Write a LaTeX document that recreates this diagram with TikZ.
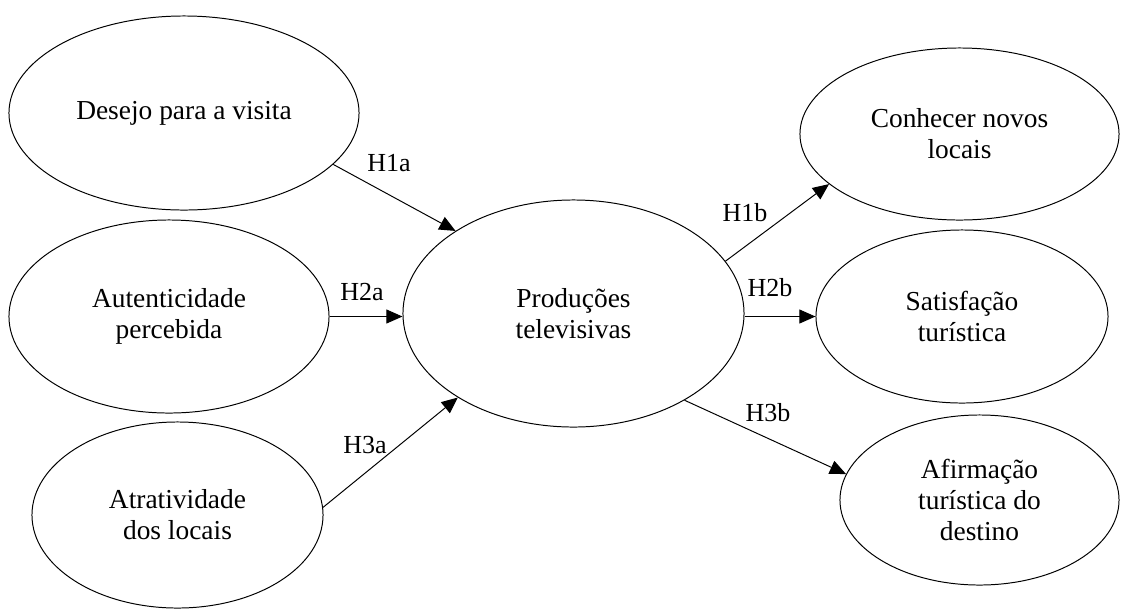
\documentclass[tikz,border=0pt]{standalone}
\usepackage{fontspec}
\setmainfont{Liberation Serif}
\usetikzlibrary{shapes.geometric,arrows.meta}

\tikzset{
  construct/.style={draw=black, line width=0.7pt, ellipse, inner sep=0pt, align=center,
    font=\fontsize{19.5}{22}\selectfont},
  hyp/.style={inner sep=0pt, font=\fontsize{18.5}{20}\selectfont},
  link/.style={line width=0.7pt, -{Triangle[length=11.5pt,width=10pt]}}
}

\begin{document}
\begin{tikzpicture}[x=0.025cm, y=-0.025cm]
  \useasboundingbox (0,0) rectangle (1121,608);

  % Antecedents
  \node[construct, minimum width=8.75cm, minimum height=4.85cm] (desejo) at (184,113) {Desejo para a visita};
  \node[construct, minimum width=8cm, minimum height=4.825cm] (autent) at (169,316.5) {Autenticidade\\percebida};
  \node[construct, minimum width=7.275cm, minimum height=4.65cm] (atrat) at (177.5,515) {Atratividade\\dos locais};

  % Central construct
  \node[construct, minimum width=8.525cm, minimum height=5.675cm] (producoes) at (573.5,313.5) {Produções\\televisivas};

  % Outcomes
  \node[construct, minimum width=7.975cm, minimum height=4.3cm] (conhecer) at (959.5,134) {Conhecer novos\\locais};
  \node[construct, minimum width=7.3cm, minimum height=4.325cm] (satisf) at (962,316.5) {Satisfação\\turística};
  \node[construct, minimum width=6.975cm, minimum height=4.25cm] (afirm) at (979.5,500) {Afirmação\\turística do\\destino};

  % Hypotheses
  \draw[link] (desejo.-19) -- (producoes.145.8);
  \draw[link] (autent.east) -- (producoes.west |- autent.east);
  \draw[link] (atrat.3) -- (producoes.216.6);
  \draw[link] (producoes.19) -- (conhecer.201);
  \draw[link] (producoes.east |- satisf.west) -- (satisf.west);
  \draw[link] (producoes.-38.3) -- (afirm.169.3);

  \foreach \name/\x/\y in {H1a/389/163, H2a/362/292, H3a/365/445, H1b/745/213, H2b/770/288, H3b/768/413}
    \node[hyp] (\name) at (\x,\y) {\name};
\end{tikzpicture}
\end{document}
